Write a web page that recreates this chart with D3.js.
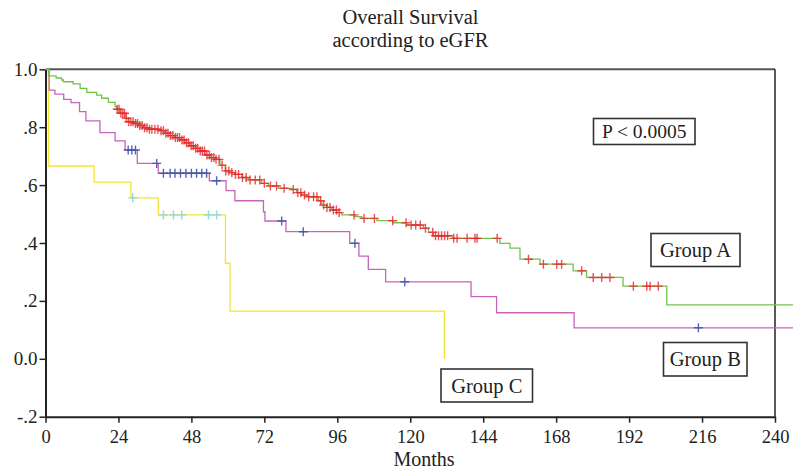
<!DOCTYPE html>
<html>
<head>
<meta charset="utf-8">
<script src="https://cdn.jsdelivr.net/npm/d3@7"></script>
<style>
  html, body { margin: 0; padding: 0; background: #fff; }
  svg { display: block; }
  text { font-family: "Liberation Serif", "DejaVu Serif", serif; fill: #222; }
</style>
</head>
<body>
<svg id="chart" width="793" height="471"></svg>
<script>
// ---------- data ----------
const titleLines = ["Overall Survival", "according to eGFR"];
const xTicks = [0, 24, 48, 72, 96, 120, 144, 168, 192, 216, 240];
const yTicks = [1.0, 0.8, 0.6, 0.4, 0.2, 0.0, -0.2];
const yTickLabels = ["1.0", ".8", ".6", ".4", ".2", "0.0", "-.2"];
const xLabel = "Months";
const pLabel = "P < 0.0005";

// Group A – step times (months) and survival after each step
const groupATimes = [0, 1.0, 3.5, 5.3, 5.9, 9.1, 11.4, 13.6, 16.8, 18.5, 20.7, 22.9, 23.4, 24.5, 26.2, 27.2, 28.9, 30.5, 32.2, 33.8, 37.7, 39.3, 41, 42.6, 44.3, 45.9, 47.5, 49.2, 50.8, 52.5, 54.1, 55.8, 57.4, 59.1, 60.7, 62.3, 64.6, 66.7, 71.1, 73.3, 76.6, 81, 82.6, 84.3, 85.9, 89.8, 90.9, 92.5, 94.2, 95.8, 97.5, 101.8, 104, 109, 114.4, 118.8, 124.3, 126, 127.6, 134, 149.5, 152.8, 156.1, 162.7, 173.6, 178, 190, 204.4, 246];
const groupASurv  = [1.0, 0.977, 0.970, 0.963, 0.957, 0.950, 0.934, 0.920, 0.911, 0.900, 0.886, 0.871, 0.862, 0.848, 0.831, 0.819, 0.813, 0.806, 0.798, 0.793, 0.788, 0.779, 0.771, 0.764, 0.756, 0.746, 0.736, 0.727, 0.718, 0.704, 0.695, 0.689, 0.669, 0.649, 0.643, 0.637, 0.626, 0.618, 0.606, 0.597, 0.589, 0.585, 0.574, 0.566, 0.560, 0.546, 0.531, 0.523, 0.514, 0.505, 0.497, 0.491, 0.485, 0.477, 0.470, 0.462, 0.451, 0.437, 0.425, 0.416, 0.399, 0.382, 0.344, 0.327, 0.304, 0.281, 0.251, 0.186, 0.186];
const groupACensor = [23.6, 24.2, 24.8, 25.4, 26.0, 26.6, 27.4, 28.1, 28.8, 29.6, 30.3, 31.0, 31.8, 32.6, 33.4, 34.2, 35.0, 36.0, 37.0, 38.0, 38.8, 39.6, 40.3, 41.1, 41.9, 42.7, 43.4, 44.1, 44.9, 45.6, 46.4, 47.1, 47.9, 48.6, 49.4, 50.1, 50.9, 51.6, 52.3, 53.1, 53.9, 54.6, 55.4, 56.1, 57.1, 58.1, 59.3, 60.3, 61.3, 62.5, 63.5, 64.8, 66.0, 67.3, 69.0, 70.5, 72.0, 74.0, 76.0, 78.5, 81.5, 83.0, 84.0, 85.2, 86.6, 88.2, 89.3, 90.5, 91.5, 92.6, 93.6, 94.7, 95.7, 96.6, 101.5, 104.8, 108.2, 114.2, 118.6, 120.3, 121.8, 123.3, 125.0, 127.4, 128.3, 129.3, 130.3, 131.3, 132.3, 134.3, 135.4, 138.7, 141.3, 142.0, 148.6, 158.9, 163.8, 168.2, 169.8, 176.4, 180.2, 183.0, 185.7, 193.4, 197.8, 198.9, 201.6];

// Group B
const groupBTimes = [0, 1.2, 3.1, 6.0, 8.4, 11.2, 13.3, 17.9, 22.9, 26.2, 30.2, 37.1, 53.9, 59.4, 62.3, 71.7, 72.2, 79.1, 100.1, 103.1, 106.2, 111.9, 140.0, 148.4, 173.9, 246];
const groupBSurv  = [1.0, 0.928, 0.914, 0.896, 0.885, 0.854, 0.822, 0.781, 0.753, 0.721, 0.675, 0.641, 0.615, 0.581, 0.546, 0.508, 0.476, 0.439, 0.399, 0.355, 0.309, 0.266, 0.215, 0.159, 0.107, 0.107];
const groupBCensor = [27.2, 28.4, 29.6, 36.6, 38.8, 41.0, 42.6, 44.4, 46.2, 48.0, 49.7, 51.4, 53.0, 56.3, 77.7, 84.8, 101.8, 118.2, 214.8];

// Group C
const groupCTimes = [0, 1.0, 16.0, 28.1, 37.1, 59.2, 60.7, 131.2];
const groupCSurv  = [1.0, 0.666, 0.610, 0.556, 0.497, 0.330, 0.165, 0.0];
const groupCCensor = [28.7, 38.8, 42.1, 44.8, 53.6, 56.3];

const groupLabels = ["Group A", "Group B", "Group C"];

// ---------- layout ----------
const svg = d3.select("#chart");
const plotL = 45.5, plotR = 775, plotT = 69.3, plotB = 416.7;

const x = d3.scaleLinear().domain([0, 240]).range([plotL, plotR]);
const y = d3.scaleLinear().domain([-0.2, 1.0]).range([plotB, plotT]);

svg.append("rect").attr("width", 793).attr("height", 471).attr("fill", "#fff");

// title
svg.selectAll("text.title").data(titleLines).enter().append("text")
  .attr("class", "title")
  .attr("x", 410.5).attr("y", (d, i) => 23.5 + i * 23.5)
  .attr("text-anchor", "middle").attr("font-size", 20.5)
  .text(d => d);

// frame (top + right)
svg.append("line").attr("x1", plotL).attr("x2", plotR).attr("y1", plotT).attr("y2", plotT)
  .attr("stroke", "#555").attr("stroke-width", 2);
svg.append("line").attr("x1", plotR).attr("x2", plotR).attr("y1", plotT).attr("y2", plotB)
  .attr("stroke", "#222").attr("stroke-width", 1.5);

// axes
const xAxis = d3.axisBottom(x).tickValues(xTicks).tickSize(6).tickSizeOuter(0);
const gx = svg.append("g").attr("transform", `translate(0,${plotB})`).call(xAxis);
gx.select(".domain").attr("stroke", "#222").attr("stroke-width", 2);
gx.selectAll(".tick line").attr("stroke", "#222").attr("stroke-width", 1.5);
gx.selectAll(".tick text").attr("font-size", 18.5).attr("font-family", "Liberation Serif").attr("fill", "#222").attr("dy", "0.95em");

const yAxis = d3.axisLeft(y).tickValues(yTicks).tickFormat((d, i) => yTickLabels[i]).tickSize(6).tickSizeOuter(0);
const gy = svg.append("g").attr("transform", `translate(${plotL},0)`).call(yAxis);
gy.select(".domain").attr("stroke", "#222").attr("stroke-width", 2);
gy.selectAll(".tick line").attr("stroke", "#222").attr("stroke-width", 1.5);
gy.selectAll(".tick text").attr("font-size", 19).attr("font-family", "Liberation Serif").attr("fill", "#222").attr("x", -8);

svg.append("text").attr("x", 424).attr("y", 466).attr("text-anchor", "middle")
  .attr("font-size", 20).text(xLabel);

// curves
const line = d3.line().x(d => x(d[0])).y(d => y(d[1])).curve(d3.curveStepAfter);
function stepAt(times, surv, t) {
  let s = surv[0];
  for (let i = 0; i < times.length; i++) { if (times[i] <= t) s = surv[i]; }
  return s;
}
function drawGroup(times, surv, censor, lineColor, markColor, markSize, markOpacity) {
  const pts = times.map((t, i) => [t, surv[i]]);
  svg.append("path").datum(pts).attr("d", line)
    .attr("fill", "none").attr("stroke", lineColor).attr("stroke-width", 1.3);
  const g = svg.append("g");
  censor.forEach(t => {
    const cx = x(t), cy = y(stepAt(times, surv, t));
    g.append("path")
      .attr("d", `M${cx - markSize},${cy}H${cx + markSize}M${cx},${cy - markSize}V${cy + markSize}`)
      .attr("stroke", markColor).attr("stroke-width", 1.4).attr("opacity", markOpacity);
  });
}
drawGroup(groupCTimes, groupCSurv, groupCCensor, "#f1e633", "#86d6de", 4.5, 0.9);
drawGroup(groupBTimes, groupBSurv, groupBCensor, "#c566b8", "#3f58a8", 4.5, 0.9);
drawGroup(groupATimes, groupASurv, groupACensor, "#74c24a", "#e8252b", 4.5, 0.8);

// label boxes
function box(x0, y0, w, h, label, fs) {
  svg.append("rect").attr("x", x0).attr("y", y0).attr("width", w).attr("height", h)
    .attr("fill", "#fff").attr("stroke", "#333").attr("stroke-width", 1.6);
  svg.append("text").attr("x", x0 + w / 2).attr("y", y0 + h / 2).attr("dy", "0.35em")
    .attr("text-anchor", "middle").attr("font-size", fs).text(label);
}
box(593.5, 118.5, 101.5, 26, pLabel, 19.5);
box(651, 233.5, 89, 33, groupLabels[0], 20.5);
box(663.5, 342.5, 83.5, 33.5, groupLabels[1], 20.5);
box(441, 369, 91.5, 33, groupLabels[2], 20.5);
</script>
</body>
</html>
